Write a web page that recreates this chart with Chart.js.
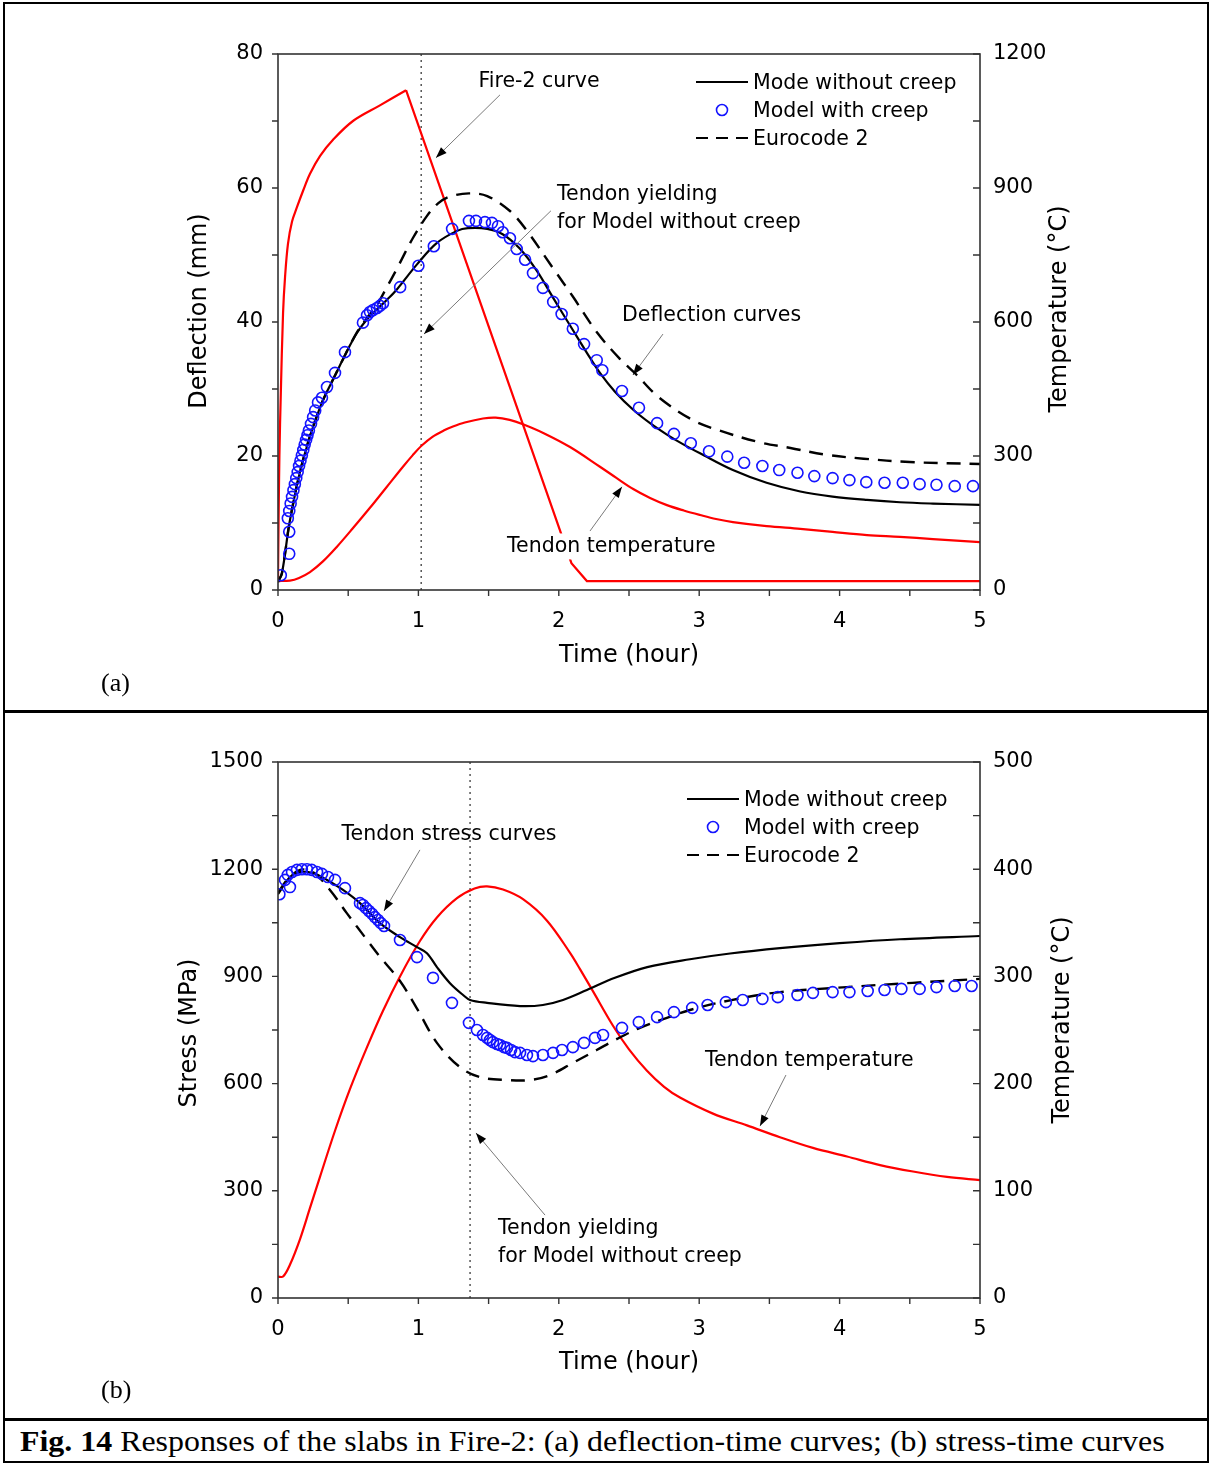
<!DOCTYPE html>
<html>
<head>
<meta charset="utf-8">
<script src="https://cdn.jsdelivr.net/npm/chart.js@4.4.1/dist/chart.umd.min.js"></script>
<style>
  body { margin: 0; background: #fff; }
  #page { position: relative; width: 1211px; height: 1464px; overflow: hidden; background: #fff; }
  canvas { position: absolute; left: 0; }
  .rule { position: absolute; background: #000; z-index: 2; }
  .panel { position: absolute; font-family: "Liberation Serif", "Times New Roman", serif; font-size: 26px; }
  #caption { position: absolute; left: 20px; top: 1425px; font-family: "Liberation Serif", "Times New Roman", serif; font-size: 29px; white-space: nowrap; transform: scaleX(1.1); transform-origin: 0 0; }
</style>
</head>
<body>
<div id="page">
  <canvas id="chartA" width="1211" height="711" style="top:0"></canvas>
  <canvas id="chartB" width="1211" height="708" style="top:711px"></canvas>
  <div class="rule" style="left:3px;top:2px;width:1206px;height:2px"></div>
  <div class="rule" style="left:3px;top:2px;width:2px;height:1461px"></div>
  <div class="rule" style="left:1207px;top:2px;width:2px;height:1461px"></div>
  <div class="rule" style="left:3px;top:710px;width:1206px;height:3px"></div>
  <div class="rule" style="left:3px;top:1418px;width:1206px;height:3px"></div>
  <div class="rule" style="left:3px;top:1461px;width:1206px;height:2px"></div>
  <div class="panel" style="left:101px;top:668px">(a)</div>
  <div class="panel" style="left:101px;top:1375px">(b)</div>
  <div id="caption"><b>Fig. 14</b> Responses of the slabs in Fire-2: (a) deflection-time curves; (b) stress-time curves</div>
</div>
<script>
// ---- (a) deflection / temperature vs time ----
const fireRiseTime = [0, 0.004, 0.01, 0.02, 0.036, 0.05, 0.071, 0.1, 0.135, 0.18, 0.228, 0.3, 0.392, 0.534, 0.726, 0.912];
const fireRiseTemp = [20, 150, 300, 440, 620, 700, 775, 825, 857, 895, 932, 972, 1008, 1050, 1085, 1119];
const fireDecayTime = [0.912, 2.09, 2.2, 5];
const fireDecayTemp = [1119, 60, 20, 20];

const tendonTimeA = [0, 0.085, 0.15, 0.228, 0.32, 0.42, 0.53, 0.655, 0.77, 0.89, 0.96, 1.026, 1.1, 1.18, 1.246, 1.33,
  1.46, 1.55, 1.65, 1.745, 1.9, 2.08, 2.293, 2.41, 2.53, 2.65, 2.77, 2.89, 3.006, 3.12, 3.24,
  3.48, 3.72, 3.95, 4.195, 4.43, 4.665, 5.0];
const tendonTempA = [20, 21, 27, 40, 64, 97, 137, 184, 229, 276, 302, 324, 343, 357, 366, 375,
  384, 386, 381, 371, 350, 320, 276, 251, 226, 206, 190, 178, 168, 159, 152,
  143, 137, 130, 123, 119, 114, 107];

const noCreepTimeA = [0, 0.028, 0.085, 0.178, 0.30, 0.42, 0.5, 0.563, 0.63, 0.7, 0.78, 0.848, 0.99, 1.132, 1.275, 1.353,
  1.49, 1.60, 1.72, 1.845, 1.96, 2.1, 2.2, 2.293, 2.4, 2.53, 2.65, 2.77, 2.89, 3.006,
  3.24, 3.48, 3.72, 3.95, 4.195, 4.43, 4.665, 5.0];
const noCreepDeflA = [1.2, 2.5, 10.4, 19.4, 27.3, 32.6, 36.0, 38.4, 40.3, 41.8, 43.4, 44.9, 48.6, 51.8, 53.6, 54.0,
  53.9, 53.1, 51.0, 47.6, 43.6, 38.8, 35.4, 32.4, 29.6, 26.9, 24.9, 23.2, 21.7, 20.4,
  17.9, 16.0, 14.7, 13.95, 13.45, 13.1, 12.9, 12.7];

const eurocodeTimeA = [0, 0.028, 0.085, 0.178, 0.30, 0.42, 0.5, 0.563, 0.63, 0.7, 0.76, 0.848, 0.96, 1.06, 1.14, 1.22, 1.36,
  1.49, 1.65, 1.77, 1.96, 2.1, 2.27, 2.43, 2.55, 2.71, 2.95, 3.13, 3.42, 3.65, 3.9, 4.17, 4.5, 5.0];
const eurocodeDeflA = [1.2, 2.5, 10.4, 19.4, 27.3, 32.6, 36.0, 38.5, 40.5, 42.4, 44.6, 48.0, 52.5, 55.8, 57.7, 58.7, 59.2,
  58.8, 56.6, 53.7, 48.0, 43.8, 38.5, 34.6, 32.2, 28.8, 25.4, 23.9, 22.1, 21.2, 20.2, 19.6, 19.1, 18.8];

const creepTimeA = [0.02, 0.08, 0.08,
  0.07, 0.08, 0.09, 0.10, 0.11, 0.12, 0.13, 0.14, 0.15, 0.16, 0.17, 0.18, 0.19, 0.20, 0.21, 0.22, 0.235, 0.25, 0.265, 0.285,
  0.313, 0.349, 0.406, 0.477, 0.605, 0.634, 0.655, 0.677, 0.705, 0.726, 0.748, 0.87, 1.0, 1.11, 1.24,
  1.36, 1.41, 1.474, 1.524, 1.567, 1.60, 1.652, 1.70, 1.76, 1.816, 1.887, 1.96, 2.02, 2.10, 2.18, 2.27, 2.31,
  2.45, 2.571, 2.70, 2.82, 2.94, 3.07, 3.20, 3.32, 3.45, 3.57, 3.70, 3.82, 3.95, 4.07, 4.19, 4.32, 4.45, 4.57, 4.69, 4.82, 4.95];
const creepDeflA = [2.2, 5.4, 8.7,
  10.7, 11.8, 12.9, 13.9, 14.9, 15.8, 16.7, 17.6, 18.5, 19.3, 20.1, 20.9, 21.7, 22.4, 23.1, 23.8, 24.8, 25.8, 26.8, 28.0,
  28.7, 30.3, 32.4, 35.5, 39.9, 41.0, 41.5, 41.8, 42.1, 42.4, 42.8, 45.2, 48.4, 51.3, 53.9,
  55.1, 55.1, 54.9, 54.8, 54.3, 53.4, 52.5, 50.9, 49.3, 47.3, 45.1, 43.0, 41.2, 39.0, 36.7, 34.3, 32.8,
  29.7, 27.2, 24.9, 23.3, 21.9, 20.7, 19.9, 19.0, 18.5, 17.9, 17.5, 17.0, 16.7, 16.4, 16.1, 16.0, 16.0, 15.8, 15.7, 15.5, 15.5];

const yieldTimeA = 1.02;

// ---- (b) stress / temperature vs time ----
const tendonTimeB = [0, 0.036, 0.085, 0.157, 0.228, 0.299, 0.406, 0.513, 0.634, 0.748,
  0.869, 1.011, 1.132, 1.275, 1.4, 1.489, 1.603, 1.745, 1.916, 2.08,
  2.15, 2.244, 2.386, 2.5, 2.628, 2.75, 2.863, 3.098, 3.34, 3.575,
  3.81, 4.053, 4.288, 4.523, 4.765, 5.0];
const tendonTempB = [20, 20, 31, 55, 84, 113, 156, 195, 234, 268,
  300, 333, 355, 373, 382, 384, 381, 372, 352, 322,
  307, 286, 254, 232, 212, 197, 187, 172, 161, 150,
  140, 132, 124, 118, 113, 110];

const noCreepTimeB = [0, 0.085, 0.157, 0.249, 0.349, 0.463, 0.584, 0.726, 0.869, 0.99,
  1.061, 1.132, 1.225, 1.318, 1.368, 1.489, 1.724, 1.887, 2.03, 2.2,
  2.4, 2.63, 2.934, 3.22, 3.575, 4.0, 4.43, 5.0];
const noCreepStressB = [1130, 1178, 1192, 1189, 1170, 1142, 1105, 1049, 1010, 982,
  965, 926, 881, 848, 834, 826, 817, 820, 834, 862,
  896, 926, 948, 964, 979, 993, 1004, 1013];

const eurocodeTimeB = [0, 0.064, 0.157, 0.249, 0.37, 0.49, 0.634, 0.726, 0.869, 0.99,
  1.132, 1.296, 1.439, 1.631, 1.795, 1.937, 2.10, 2.27, 2.415, 2.578,
  2.77, 2.934, 3.22, 3.575, 4.05, 4.52, 5.0];
const eurocodeStressB = [1133, 1170, 1198, 1192, 1142, 1077, 1002, 955, 887, 810,
  714, 646, 618, 610, 610, 624, 658, 694, 725, 756,
  784, 806, 833, 856, 870, 882, 893];

const creepTimeB = [0.01, 0.085,
  0.05, 0.07, 0.1, 0.135, 0.17, 0.206, 0.24, 0.278, 0.313,
  0.356, 0.406, 0.477, 0.584, 0.605, 0.627, 0.648, 0.67, 0.69, 0.712, 0.733, 0.755,
  0.869, 0.99, 1.104, 1.239, 1.36, 1.417, 1.46, 1.489, 1.51, 1.531, 1.56, 1.581, 1.61, 1.631, 1.66, 1.688, 1.724, 1.773, 1.816,
  1.887, 1.959, 2.023, 2.10, 2.18, 2.258, 2.315, 2.45, 2.57, 2.70, 2.82, 2.95,
  3.06, 3.19, 3.31, 3.45, 3.56, 3.70, 3.81, 3.95, 4.07, 4.20, 4.32, 4.44, 4.57, 4.69, 4.82, 4.94];
const creepStressB = [1130, 1150,
  1170, 1184, 1192, 1198, 1200, 1200, 1198, 1192, 1187,
  1178, 1170, 1147, 1105, 1100, 1091, 1083, 1075, 1066, 1058, 1049, 1041,
  1002, 954, 896, 826, 770, 750, 736, 728, 722, 716, 711, 708, 702, 700, 694, 688, 686, 680, 677,
  680, 686, 694, 702, 714, 728, 736, 756, 772, 786, 800, 812,
  820, 828, 834, 837, 842, 848, 854, 856, 856, 859, 862, 865, 865, 870, 873, 873];

const yieldTimeB = 1.368;

const legendNames = ['Mode without creep', 'Model with creep', 'Eurocode 2'];

// ---------------------------------------------------------------
Chart.defaults.font.family = '"DejaVu Sans", sans-serif';
Chart.defaults.font.size = 21;
Chart.defaults.color = '#000';

const FONT = '"DejaVu Sans", sans-serif';
const pts = (xs, ys) => xs.map((x, i) => ({ x: x, y: ys[i] }));

const curve = (data, axis, color, width, dash) => ({
  data: data, yAxisID: axis, showLine: true, borderColor: color, borderWidth: width, borderDash: dash || [],
  pointRadius: 0, fill: false, tension: 0.35
});
const straight = (data, axis, color, width, dash) => ({
  data: data, yAxisID: axis, showLine: true, borderColor: color, borderWidth: width, borderDash: dash || [],
  pointRadius: 0, fill: false, tension: 0
});
const circles = (data) => ({
  data: data, yAxisID: 'y', showLine: false, pointStyle: 'circle', pointRadius: 5.5,
  pointBorderWidth: 1.6, pointBorderColor: '#1414ff', pointBackgroundColor: 'rgba(0,0,0,0)',
  borderColor: '#1414ff', backgroundColor: 'rgba(0,0,0,0)'
});

function drawArrow(ctx, x1, y1, x2, y2) {
  ctx.save();
  ctx.strokeStyle = '#7a7a7a';
  ctx.lineWidth = 1;
  ctx.beginPath();
  ctx.moveTo(x1, y1);
  ctx.lineTo(x2, y2);
  ctx.stroke();
  const ang = Math.atan2(y2 - y1, x2 - x1);
  const len = 11, half = 4;
  ctx.fillStyle = '#000';
  ctx.beginPath();
  ctx.moveTo(x2, y2);
  ctx.lineTo(x2 - len * Math.cos(ang) + half * Math.sin(ang), y2 - len * Math.sin(ang) - half * Math.cos(ang));
  ctx.lineTo(x2 - len * Math.cos(ang) - half * Math.sin(ang), y2 - len * Math.sin(ang) + half * Math.cos(ang));
  ctx.closePath();
  ctx.fill();
  ctx.restore();
}

const decor = {
  id: 'decor',
  afterDatasetsDraw(chart, args, o) {
    const ctx = chart.ctx, a = chart.chartArea;
    const sx = chart.scales.x, sy = chart.scales.y, sr = chart.scales.y1;
    const P = (t, v) => [sx.getPixelForValue(t), sy.getPixelForValue(v)];
    ctx.save();

    // plot frame
    ctx.strokeStyle = '#333';
    ctx.lineWidth = 1.6;
    ctx.strokeRect(a.left, a.top, a.right - a.left, a.bottom - a.top);

    // tick marks: bottom and left outward, right inward
    ctx.lineWidth = 1.4;
    ctx.beginPath();
    for (let t = sx.min; t <= sx.max + 1e-9; t += o.xMinor) {
      const p = sx.getPixelForValue(t);
      ctx.moveTo(p, a.bottom); ctx.lineTo(p, a.bottom + 6);
    }
    for (let v = sy.min; v <= sy.max + 1e-9; v += o.yMinor) {
      const p = sy.getPixelForValue(v);
      ctx.moveTo(a.left - 6, p); ctx.lineTo(a.left, p);
    }
    for (let v = sr.min; v <= sr.max + 1e-9; v += o.rMinor) {
      const p = sr.getPixelForValue(v);
      ctx.moveTo(a.right - 7, p); ctx.lineTo(a.right, p);
    }
    ctx.stroke();

    // axis titles
    ctx.fillStyle = '#000';
    ctx.font = '24px ' + FONT;
    ctx.textAlign = 'center';
    ctx.textBaseline = 'middle';
    ctx.fillText('Time (hour)', o.xTitle[0], o.xTitle[1]);
    [[o.yTitle, o.yTitleText], [o.rTitle, 'Temperature (°C)']].forEach(([pos, txt]) => {
      ctx.save();
      ctx.translate(pos[0], pos[1]);
      ctx.rotate(-Math.PI / 2);
      ctx.fillText(txt, 0, 0);
      ctx.restore();
    });

    // annotation texts
    ctx.font = '20.5px ' + FONT;
    o.notes.forEach(n => {
      const [px, py] = P(n.t, n.v);
      n.lines.forEach((line, i) => {
        const w = ctx.measureText(line).width;
        const x0 = n.align === 'center' ? px - w / 2 : px;
        const y = py + i * 28;
        if (n.bg) {
          ctx.fillStyle = '#fff';
          ctx.fillRect(x0 - 3, y - 13, w + 6, 26);
        }
        ctx.fillStyle = '#000';
        ctx.textAlign = 'left';
        ctx.fillText(line, x0, y);
      });
    });
    o.arrows.forEach(ar => {
      const [x1, y1] = P(ar[0][0], ar[0][1]);
      const [x2, y2] = P(ar[1][0], ar[1][1]);
      drawArrow(ctx, x1, y1, x2, y2);
    });

    // legend
    const lx = o.legend[0], ly = o.legend[1], gap = 28;
    ctx.strokeStyle = '#000';
    ctx.lineWidth = 2.2;
    ctx.beginPath(); ctx.moveTo(lx, ly); ctx.lineTo(lx + 52, ly); ctx.stroke();
    ctx.setLineDash([12, 8]);
    ctx.beginPath(); ctx.moveTo(lx, ly + 2 * gap); ctx.lineTo(lx + 52, ly + 2 * gap); ctx.stroke();
    ctx.setLineDash([]);
    ctx.strokeStyle = '#1414ff';
    ctx.lineWidth = 1.6;
    ctx.beginPath(); ctx.arc(lx + 26, ly + gap, 5.5, 0, Math.PI * 2); ctx.stroke();
    ctx.fillStyle = '#000';
    ctx.textAlign = 'left';
    legendNames.forEach((name, i) => ctx.fillText(name, lx + 57, ly + i * gap + 2));

    ctx.restore();
  }
};

function makeChart(id, datasets, yMax, yStep, rMax, rStep, areaTop, areaBottomGap, decorOpts) {
  const plain = v => String(v);
  return new Chart(document.getElementById(id), {
    type: 'scatter',
    data: { datasets: datasets },
    options: {
      responsive: false,
      animation: false,
      layout: { padding: { top: areaTop, left: 0, right: 0, bottom: 0 } },
      plugins: { legend: { display: false }, tooltip: { enabled: false }, decor: decorOpts },
      scales: {
        x: {
          type: 'linear', min: 0, max: 5,
          ticks: { stepSize: 1, padding: 19, maxRotation: 0, callback: plain },
          grid: { display: false, drawTicks: false }, border: { display: false },
          afterFit: s => { s.height = areaBottomGap; }
        },
        y: {
          type: 'linear', position: 'left', min: 0, max: yMax,
          ticks: { stepSize: yStep, padding: 15, callback: plain },
          grid: { display: false, drawTicks: false }, border: { display: false },
          afterFit: s => { s.width = 278; }
        },
        y1: {
          type: 'linear', position: 'right', min: 0, max: rMax,
          ticks: { stepSize: rStep, padding: 13, callback: plain },
          grid: { display: false, drawTicks: false }, border: { display: false },
          afterFit: s => { s.width = 231; }
        }
      }
    },
    plugins: [decor]
  });
}

makeChart('chartA', [
  circles(pts(creepTimeA, creepDeflA)),
  curve(pts(noCreepTimeA, noCreepDeflA), 'y', '#000', 2.2),
  curve(pts(eurocodeTimeA, eurocodeDeflA), 'y', '#000', 2.4, [14, 9]),
  curve(pts(fireRiseTime, fireRiseTemp), 'y1', '#ff0000', 2.2),
  straight(pts(fireDecayTime, fireDecayTemp), 'y1', '#ff0000', 2.2),
  curve(pts(tendonTimeA, tendonTempA), 'y1', '#ff0000', 2.2),
  straight(pts([yieldTimeA, yieldTimeA], [0, 80]), 'y', '#555', 1.5, [2, 4])
], 80, 20, 1200, 300, 54, 121, {
  xMinor: 0.5, yMinor: 10, rMinor: 150,
  xTitle: [629, 656], yTitle: [200, 311], rTitle: [1060, 309], yTitleText: 'Deflection (mm)',
  legend: [696, 82],
  notes: [
    { lines: ['Fire-2 curve'], t: 1.859, v: 75.8, align: 'center' },
    { lines: ['Tendon yielding', 'for Model without creep'], t: 1.987, v: 59.0, align: 'left' },
    { lines: ['Deflection curves'], t: 2.45, v: 41.0, align: 'left' },
    { lines: ['Tendon temperature'], t: 1.631, v: 6.5, align: 'left', bg: true }
  ],
  arrows: [
    [[1.581, 73.9], [1.125, 64.5]],
    [[1.944, 56.6], [1.04, 38.2]],
    [[2.742, 38.2], [2.528, 32.1]],
    [[2.222, 8.8], [2.45, 15.4]]
  ]
});

makeChart('chartB', [
  circles(pts(creepTimeB, creepStressB)),
  curve(pts(noCreepTimeB, noCreepStressB), 'y', '#000', 2.2),
  curve(pts(eurocodeTimeB, eurocodeStressB), 'y', '#000', 2.4, [14, 9]),
  curve(pts(tendonTimeB, tendonTempB), 'y1', '#ff0000', 2.2),
  straight(pts([yieldTimeB, yieldTimeB], [0, 1500]), 'y', '#555', 1.5, [2, 4])
], 1500, 300, 500, 100, 51, 121, {
  xMinor: 0.5, yMinor: 150, rMinor: 50,
  xTitle: [629, 652], yTitle: [190, 322], rTitle: [1063, 309], yTitleText: 'Stress (MPa)',
  legend: [687, 88],
  notes: [
    { lines: ['Tendon stress curves'], t: 1.218, v: 1298, align: 'center' },
    { lines: ['Tendon temperature'], t: 3.041, v: 663, align: 'left' },
    { lines: ['Tendon yielding', 'for Model without creep'], t: 1.567, v: 195, align: 'left' }
  ],
  arrows: [
    [[1.011, 1254], [0.755, 1083]],
    [[3.618, 624], [3.433, 481]],
    [[1.902, 232], [1.41, 462]]
  ]
});
</script>
</body>
</html>
